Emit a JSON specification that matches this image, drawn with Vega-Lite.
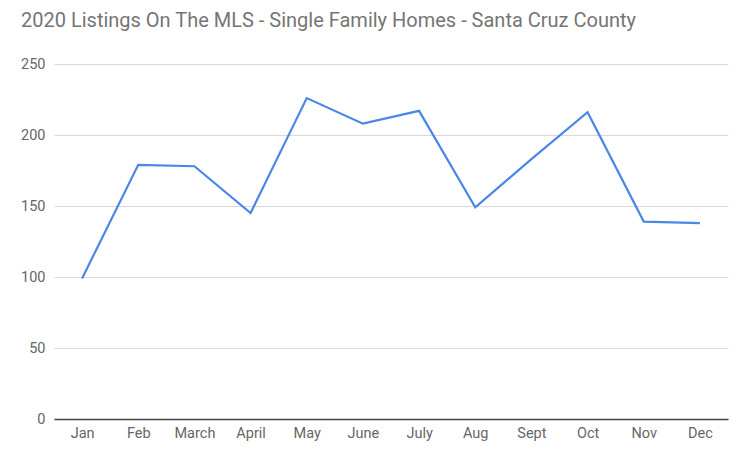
{
  "$schema": "https://vega.github.io/schema/vega-lite/v6.json",
  "width": 674,
  "height": 355,
  "autosize": {"type": "none"},
  "padding": {"left": 54, "top": 64, "right": 22, "bottom": 43},
  "background": "white",
  "title": {
    "text": "2020 Listings On The MLS - Single Family Homes - Santa Cruz County",
    "anchor": "start",
    "frame": "group",
    "dx": -33,
    "offset": 25,
    "font": "Roboto",
    "fontSize": 20,
    "fontWeight": "normal",
    "color": "#757575"
  },
  "data": {
    "values": [
      {"month": "Jan", "listings": 99},
      {"month": "Feb", "listings": 179},
      {"month": "March", "listings": 178},
      {"month": "April", "listings": 145},
      {"month": "May", "listings": 226},
      {"month": "June", "listings": 208},
      {"month": "July", "listings": 217},
      {"month": "Aug", "listings": 149},
      {"month": "Sept", "listings": 183},
      {"month": "Oct", "listings": 216},
      {"month": "Nov", "listings": 139},
      {"month": "Dec", "listings": 138}
    ]
  },
  "config": {
    "view": {"stroke": null},
    "axis": {"labelFont": "Roboto", "labelColor": "#666666", "labelFontSize": 14.5}
  },
  "mark": {"type": "line", "color": "#4a86e8", "strokeWidth": 2.2},
  "encoding": {
    "x": {
      "field": "month",
      "type": "ordinal",
      "sort": null,
      "scale": {"type": "point", "padding": 0.5},
      "axis": {
        "title": null,
        "labelAngle": 0,
        "ticks": false,
        "labelPadding": 7,
        "domainColor": "#444444",
        "domainWidth": 1.5,
        "grid": false
      }
    },
    "y": {
      "field": "listings",
      "type": "quantitative",
      "scale": {"domain": [0, 250], "nice": false},
      "axis": {
        "title": null,
        "values": [0, 50, 100, 150, 200, 250],
        "ticks": false,
        "domain": false,
        "labelPadding": 9,
        "gridColor": "#d9d9d9",
        "gridWidth": 1
      }
    }
  }
}
